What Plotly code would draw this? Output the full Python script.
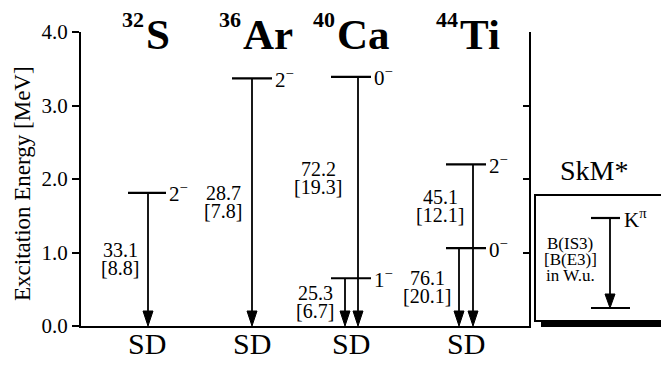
import plotly.graph_objects as go

# ---------------- data ----------------
mass_numbers = ["32", "36", "40", "44"]
element_symbols = ["S", "Ar", "Ca", "Ti"]
band_label = ["SD", "SD", "SD", "SD"]

# octupole states (one entry per state)
state_nucleus = [0, 1, 2, 2, 3, 3]
state_energy = [1.81, 3.37, 3.39, 0.65, 2.20, 1.06]        # MeV
state_kpi = ["2", "2", "0", "1", "2", "0"]                   # K (parity -)
b_is3 = ["33.1", "28.7", "72.2", "25.3", "45.1", "76.1"]     # W.u.
b_e3 = ["8.8", "7.8", "19.3", "6.7", "12.1", "20.1"]         # W.u.

ytick_vals = [0, 1, 2, 3, 4]
ytick_text = ["0.0", "1.0", "2.0", "3.0", "4.0"]

# ---------------- layout constants ----------------
OFF = 8                      # page body margin
W, H = 669 - OFF, 368 - OFF
L, R, T, B = 81 - OFF, 140, 32 - OFF, 42
PW, PH = W - L - R, H - T - B
group_x = [66, 171, 270, 385]          # x-axis units (px-like)
arrow_dx = [1, 0, 7, -6, 7, -7]
label_dx = [-28, -29, -40, -30, -33, -32]
line_half = [19, 20, 20, 20, 20, 20]
FONT = "Liberation Serif, Times New Roman, serif"
px_per_mev = PH / 4.0
head_h = 15 / px_per_mev
head_w = 5

def pxx(px):   # reference-image pixel -> paper x
    return (px - OFF - L) / PW

def pxy(py):   # reference-image pixel -> paper y
    return (H - B - (py - OFF)) / PH

def fnt(size):
    return dict(family=FONT, size=size, color="black")

fig = go.Figure()

annotations = []
for i, n in enumerate(state_nucleus):
    e = state_energy[i]
    cx = group_x[n]
    x0, x1 = cx - line_half[i], cx + line_half[i]
    ax = group_x[n] + arrow_dx[i]
    fig.add_trace(go.Scatter(x=[x0, x1], y=[e, e], mode="lines",
                             line=dict(color="black", width=2.2),
                             hoverinfo="skip", showlegend=False))
    fig.add_trace(go.Scatter(x=[ax, ax], y=[e, head_h * 0.5], mode="lines",
                             line=dict(color="black", width=1.8),
                             hoverinfo="skip", showlegend=False))
    fig.add_trace(go.Scatter(x=[ax - head_w, ax + head_w, ax, ax - head_w],
                             y=[head_h, head_h, 0, head_h], mode="lines",
                             fill="toself", fillcolor="black",
                             line=dict(color="black", width=1),
                             hoverinfo="skip", showlegend=False))
    annotations.append(dict(x=x1 + 1, y=e, xref="x", yref="y", xanchor="left",
                            yanchor="middle", showarrow=False,
                            text=state_kpi[i] + "<sup>\u2212</sup>", font=fnt(21)))
    below = [state_energy[j] for j in range(len(state_nucleus))
             if state_nucleus[j] == n and state_energy[j] < e]
    ymid = (e + (max(below) if below else 0.0)) / 2
    for txt, shift in ((b_is3[i], 9), ("[" + b_e3[i] + "]", -9)):
        annotations.append(dict(x=ax + label_dx[i], y=ymid, xref="x", yref="y",
                                xanchor="center", yanchor="middle", yshift=shift,
                                showarrow=False, text=txt, font=fnt(20)))

fig.add_trace(go.Scatter(x=[None], y=[None], yaxis="y2", showlegend=False,
                         hoverinfo="skip"))

title_split_px = [146, 243, 337, 460]
for n in range(4):
    sx = title_split_px[n]
    annotations.append(dict(x=pxx(sx), y=pxy(19), xref="paper", yref="paper",
                            xanchor="right", yanchor="middle", showarrow=False,
                            text="<b>" + mass_numbers[n] + "</b>", font=fnt(22)))
    annotations.append(dict(x=pxx(sx - 2), y=pxy(34), xref="paper", yref="paper",
                            xanchor="left", yanchor="middle", showarrow=False,
                            text="<b>" + element_symbols[n] + "</b>", font=fnt(43)))
    annotations.append(dict(x=group_x[n], y=pxy(343), xref="x", yref="paper",
                            xanchor="center", yanchor="middle", showarrow=False,
                            text=band_label[n], font=fnt(30)))

annotations.append(dict(x=pxx(22), y=pxy(184), xref="paper", yref="paper",
                        xanchor="center", yanchor="middle", textangle=-90,
                        showarrow=False, text="Excitation Energy [MeV]",
                        font=fnt(23)))

annotations.append(dict(x=pxx(594), y=pxy(170), xref="paper", yref="paper",
                        xanchor="center", yanchor="middle", showarrow=False,
                        text="SkM*", font=fnt(28)))
annotations.append(dict(x=pxx(622), y=pxy(219), xref="paper", yref="paper",
                        xanchor="left", yanchor="middle", showarrow=False,
                        text="K<sup>\u03c0</sup>", font=fnt(21)))
for txt, py in (("B(IS3)", 243), ("[B(E3)]", 259), ("in W.u.", 275)):
    annotations.append(dict(x=pxx(570), y=pxy(py), xref="paper", yref="paper",
                            xanchor="center", yanchor="middle", showarrow=False,
                            text=txt, font=fnt(17)))

shapes = [
    dict(type="rect", xref="paper", yref="paper", x0=pxx(541), x1=pxx(680),
         y0=pxy(327), y1=pxy(205), fillcolor="black", line=dict(width=0)),
    dict(type="rect", xref="paper", yref="paper", x0=pxx(535), x1=pxx(667),
         y0=pxy(321), y1=pxy(195), fillcolor="white",
         line=dict(color="black", width=2)),
    dict(type="line", xref="paper", yref="paper", x0=pxx(591), x1=pxx(620),
         y0=pxy(218), y1=pxy(218), line=dict(color="black", width=2.2)),
    dict(type="line", xref="paper", yref="paper", x0=pxx(591), x1=pxx(630),
         y0=pxy(308), y1=pxy(308), line=dict(color="black", width=2)),
    dict(type="line", xref="paper", yref="paper", x0=pxx(610), x1=pxx(610),
         y0=pxy(218), y1=pxy(298), line=dict(color="black", width=1.8)),
    dict(type="path", xref="paper", yref="paper",
         path="M {} {} L {} {} L {} {} Z".format(pxx(605), pxy(294), pxx(615), pxy(294),
                                                 pxx(610), pxy(308)),
         fillcolor="black", line=dict(color="black", width=1)),
]

fig.update_layout(
    width=W, height=H,
    margin=dict(l=L, r=R, t=T, b=B, pad=0),
    paper_bgcolor="white", plot_bgcolor="white",
    showlegend=False,
    font=fnt(18),
    xaxis=dict(range=[0, PW], showline=True, linecolor="black", linewidth=2,
               showticklabels=False, ticks="", showgrid=False, zeroline=False,
               fixedrange=True),
    yaxis=dict(range=[0, 4], tickvals=ytick_vals, ticktext=ytick_text,
               showline=True, linecolor="black", linewidth=2, ticks="outside",
               ticklen=7, tickwidth=2, tickcolor="black", showgrid=False,
               zeroline=False, tickfont=fnt(21), fixedrange=True),
    yaxis2=dict(range=[0, 4], overlaying="y", side="right", tickvals=[1, 2, 3, 4],
                showline=True, linecolor="black", linewidth=2, ticks="inside",
                ticklen=6, tickwidth=2, tickcolor="black", showticklabels=False,
                showgrid=False, zeroline=False, fixedrange=True),
    annotations=annotations,
    shapes=shapes,
)

fig.write_html("out.html")
